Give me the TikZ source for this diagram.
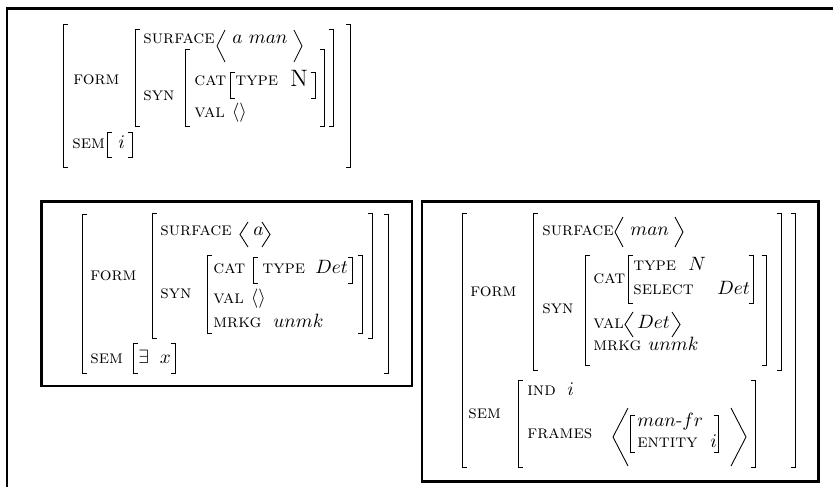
\documentclass[tikz,border=0pt]{standalone}
\newcommand\avmL[3]{\draw[brk] ({#1+4.5},#2) -- (#1,#2) -- (#1,#3) -- ({#1+4.5},#3);}
\newcommand\avmR[3]{\draw[brk] ({#1-4.5},#2) -- (#1,#2) -- (#1,#3) -- ({#1-4.5},#3);}
\newcommand\angB[4]{\draw[brk] (#2,#3) -- (#1,{(#3+#4)/2}) -- (#2,#4);}
\tikzset{
  feat/.style={anchor=base west, inner sep=0pt, font=\fontsize{10.5}{12.5}\selectfont\scshape},
  val/.style={anchor=base west, inner sep=0pt, font=\fontsize{11}{13}\selectfont},
  bigval/.style={anchor=base west, inner sep=0pt, font=\fontsize{13.5}{16}\selectfont},
  brk/.style={line width=0.5pt},
  frm/.style={line width=1.4pt}
}
\begin{document}
\begin{tikzpicture}[x=0.5682pt, y=-0.5682pt]
\useasboundingbox (0,0) rectangle (833,487);
% frames
\draw[frm] (7.2,495) -- (7.2,8.5) -- (840,8.5);
\draw[frm] (41.3,201.3) rectangle (412,386);
\draw[frm] (422,201.3) rectangle (818.5,481.3);

% ---------- top AVM ----------
\node[feat] (aForm) at (73,85) {form};
\node[feat] (aSurf) at (143,44) {surface};
\node[val] (aSurfV) at (232,44) {$a\ man$};
\node[feat] (aSyn) at (143,101) {syn};
\node[feat] (aCat) at (194,86) {cat};
\node[feat] (aType) at (235,86) {type};
\node[bigval] (aTypeV) at (290,87) {N};
\node[feat] (aVal) at (194,118) {val $\langle\rangle$};
\node[feat] (aSem) at (72,149) {sem};
\node[val] (aSemV) at (118,149) {$i$};
\avmL{63}{24}{167} \avmR{350}{24}{167}
\avmL{135}{29}{126} \avmR{333}{29}{126}
\avmL{185}{49}{126} \avmR{324}{49}{126}
\avmL{230}{72}{98} \avmR{315}{72}{98}
\avmL{107}{132}{157} \avmR{132}{132}{157}
\angB{217}{225}{30}{62} \angB{302}{294}{30}{62}

% ---------- left box AVM ----------
\node[feat] (bForm) at (90,281) {form};
\node[feat] (bSurf) at (160,236) {surface};
\node[val] (bSurfV) at (253,236) {$a$};
\node[feat] (bSyn) at (160,299) {syn};
\node[feat] (bCat) at (213,274) {cat};
\node[feat] (bType) at (262,274) {type};
\node[val] (bTypeV) at (315,274) {$Det$};
\node[feat] (bVal) at (213,304) {val $\langle\rangle$};
\node[feat] (bMrkg) at (213,328) {mrkg};
\node[val] (bMrkgV) at (273,328) {$unmk$};
\node[feat] (bSem) at (90,364) {sem};
\node[val] (bSemV) at (138,364) {$\exists\;\;x$};
\avmL{82}{214}{373} \avmR{388}{214}{373}
\avmL{152}{213}{338} \avmR{372}{213}{338}
\avmL{207}{255}{333} \avmR{362}{255}{333}
\avmL{253}{257}{283} \avmR{352}{257}{283}
\avmL{133}{343}{373} \avmR{175}{343}{373}
\angB{240}{248}{222}{247} \angB{270}{262}{222}{247}

% ---------- right box AVM ----------
\node[feat] (cForm) at (470,297) {form};
\node[feat] (cSurf) at (542,236) {surface};
\node[val] (cSurfV) at (630,236) {$man$};
\node[feat] (cSyn) at (542,314) {syn};
\node[feat] (cCat) at (593,284) {cat};
\node[feat] (cType) at (633,271) {type};
\node[val] (cTypeV) at (688,271) {$N$};
\node[feat] (cSel) at (633,295) {select};
\node[val] (cSelV) at (717,295) {$Det$};
\node[feat] (cVal) at (593,329) {val};
\node[val] (cValV) at (637,329) {$Det$};
\node[feat] (cMrkg) at (593,351) {mrkg};
\node[val] (cMrkgV) at (648,351) {$unmk$};
\node[feat] (cSem) at (468,419) {sem};
\node[feat] (cInd) at (527,396) {ind};
\node[val] (cIndV) at (567,396) {$i$};
\node[feat] (cFr) at (527,439) {frames};
\node[val] (cFrT) at (637,427) {$man\mbox{-}fr$};
\node[feat] (cEnt) at (637,448) {entity};
\node[val] (cEntV) at (710,448) {$i$};
\avmL{462}{213}{467} \avmR{795}{213}{467}
\avmL{533}{213}{370} \avmR{781}{213}{370}
\avmL{585}{255}{365} \avmR{766}{255}{365}
\avmL{628}{255}{303} \avmR{753}{255}{303}
\avmL{518}{380}{467} \avmR{755}{380}{467}
\avmL{630}{415}{452} \avmR{718}{415}{452}
\angB{615}{623}{217}{247} \angB{683}{675}{217}{247}
\angB{625}{633}{312}{337} \angB{680}{672}{312}{337}
\angB{613}{628}{408}{466} \angB{746}{731}{408}{466}
\end{tikzpicture}
\end{document}
